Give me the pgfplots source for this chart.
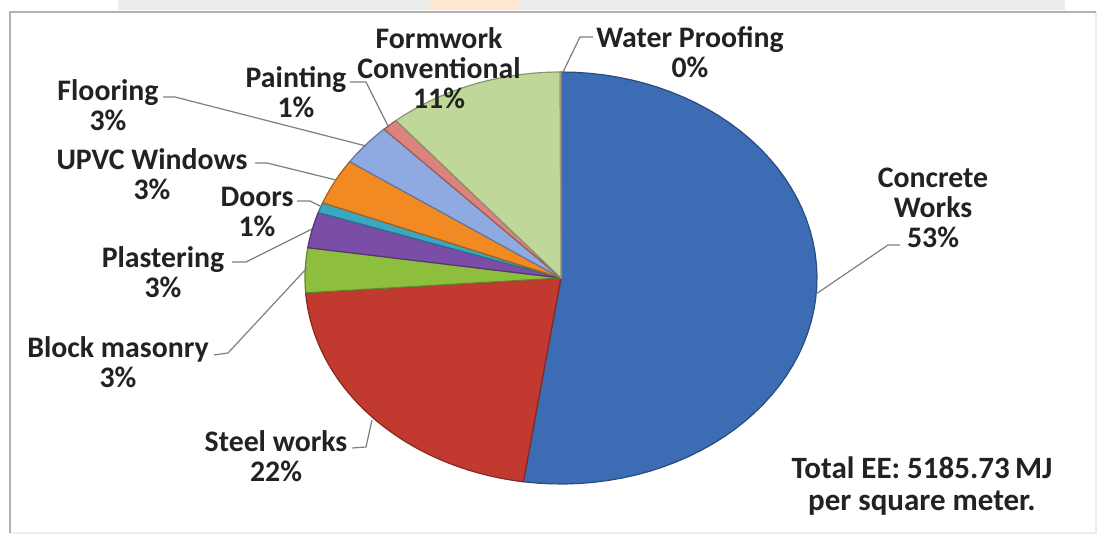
\documentclass[border=0pt]{standalone}
\usepackage{pgfplots}
\pgfplotsset{compat=1.18}
\usepackage{pgfplotstable}
\usepackage{fontspec}
\setmainfont{Carlito}

\definecolor{slice0}{HTML}{3B6CB4}
\definecolor{slice1}{HTML}{C1392F}
\definecolor{slice2}{HTML}{8DBE3E}
\definecolor{slice3}{HTML}{7A4DA6}
\definecolor{slice4}{HTML}{3AA8C2}
\definecolor{slice5}{HTML}{F28A24}
\definecolor{slice6}{HTML}{8FAAE0}
\definecolor{slice7}{HTML}{DD837D}
\definecolor{slice8}{HTML}{BFD89A}
\definecolor{slice9}{HTML}{E8D8A0}
\definecolor{txt}{HTML}{222222}
\definecolor{lead}{HTML}{7F7F7F}

\tikzset{lbl/.style={font=\bfseries\fontsize{14.9}{15}\selectfont, text=txt, align=center, inner sep=0pt}}

% share of total embodied energy, per cent (clockwise from 12 o'clock)
\pgfplotstableread{
name value
Concrete 52.35
Steel 21.5
Block 3.5
Plastering 2.8
Doors 0.8
UPVC 3.6
Flooring 3.3
Painting 1.0
Formwork 11.1
Water 0.05
}\piedata

\begin{document}
\begin{tikzpicture}
\begin{axis}[
  width=552.5pt, height=272.5pt, scale only axis,
  xmin=0, xmax=1105, ymin=0, ymax=545, y dir=reverse,
  hide axis, clip=false,
]
% background and frame
\fill[white] (0,0) rectangle (1105,545);
\fill[gray!15] (118,0) rectangle (1065,10);
\fill[orange!18] (430,0) rectangle (520,10);
\draw[gray!15, line width=1pt] (1096,12) -- (1096,533) -- (10,533);
\draw[gray!60, line width=1.2pt] (10,533) -- (10,12) -- (1096,12);

% pie slices
\def\cum{0}
\pgfplotsforeachungrouped \i in {0,...,9}{%
  \pgfplotstablegetelem{\i}{value}\of\piedata
  \let\sliceval\pgfplotsretval
  \pgfmathsetmacro\sa{90-3.6*\cum}%
  \pgfmathsetmacro\cum{\cum+\sliceval}%
  \pgfmathsetmacro\sb{90-3.6*\cum}%
  \edef\cmd{\noexpand\addplot[fill=slice\i, draw=slice\i!70!black, line width=0.6pt, domain=\sb:\sa, samples=60] ({561+256*cos(x)},{278-206*sin(x)}) -- (561,278) -- cycle;}%
  \cmd
}

% leader lines
\begin{scope}[lead, line width=0.6pt]
\draw (593,37) -- (580,37) -- (563,72);
\draw (350,82) -- (366,82) -- (389,128);
\draw (163,97) -- (175,97) -- (366,146);
\draw (255,163) -- (267,163) -- (336,180);
\draw (297,201) -- (310,201) -- (322,207);
\draw (232,262) -- (246,262) -- (312,229);
\draw (214,355) -- (228,353) -- (307,268);
\draw (352,448) -- (366,447) -- (372,420);
\draw (900,245) -- (888,245) -- (816,294);
\end{scope}

% labels
\node[lbl] at (439,68) {Formwork\\Conventional\\11\%};
\node[lbl] at (690,52) {Water Proo{}fing\\0\%};
\node[lbl] at (296,92) {Painting\\1\%};
\node[lbl] at (108,105) {Flooring\\3\%};
\node[lbl] at (152,174) {UPVC Windows\\3\%};
\node[lbl] at (257,212) {Doors\\1\%};
\node[lbl] at (163,272) {Plastering\\3\%};
\node[lbl] at (118,362) {Block masonry\\3\%};
\node[lbl] at (276,456) {Steel works\\22\%};
\node[lbl] at (933,208) {Concrete\\Works\\53\%};
\node[lbl, font=\bfseries\fontsize{15.5}{16}\selectfont] at (922,486) {Total EE: 5185.73\,MJ\\per square meter.};
\end{axis}
\end{tikzpicture}
\end{document}
